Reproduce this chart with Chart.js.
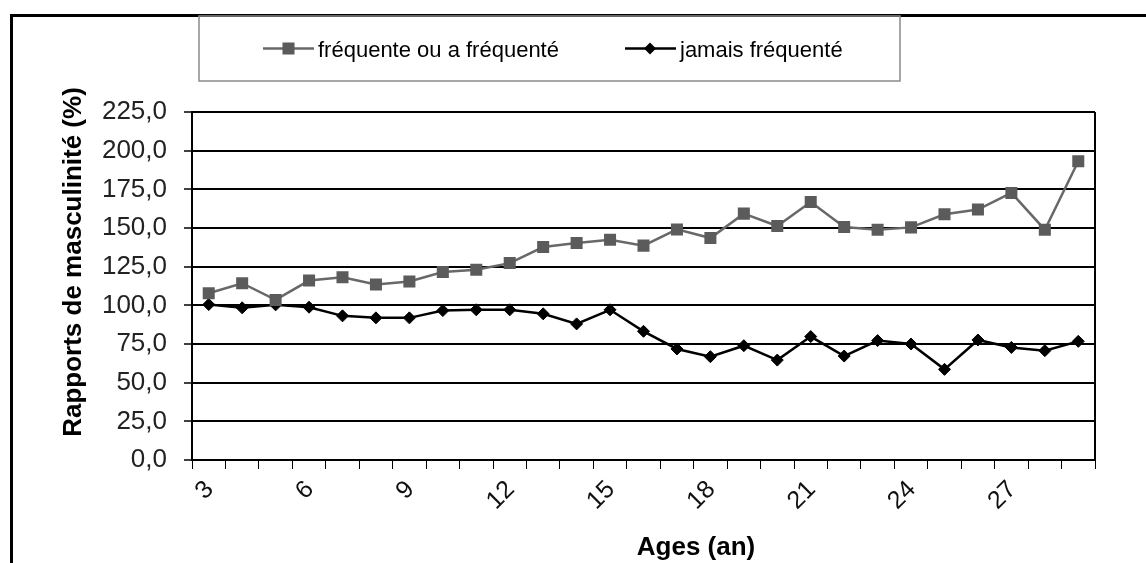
<!DOCTYPE html>
<html>
<head>
<meta charset="utf-8">
<script src="https://cdn.jsdelivr.net/npm/chart.js@4/dist/chart.umd.min.js"></script>
<style>
  html, body { margin: 0; padding: 0; background: #fff; }
  #wrap { width: 1146px; height: 563px; }
</style>
</head>
<body>
<div id="wrap"><canvas id="c" width="1146" height="563"></canvas></div>
<script>
// ---- data ----
const categories = [3,4,5,6,7,8,9,10,11,12,13,14,15,16,17,18,19,20,21,22,23,24,25,26,27,28,29];
const xTickLabels = [3,6,9,12,15,18,21,24,27];
const seriesNames = ['fréquente ou a fréquenté', 'jamais fréquenté'];
const frequente = [107.8,114.3,103.5,116.0,118.2,113.5,115.4,121.5,123.0,127.3,137.7,140.3,142.4,138.6,149.1,143.5,159.3,151.3,166.8,150.6,148.9,150.4,158.9,161.9,172.7,148.9,193.2];
const jamais    = [100.5,98.4,100.3,98.8,93.2,91.9,91.9,96.6,97.1,97.1,94.5,88.0,97.1,83.2,71.8,66.8,73.9,64.6,79.8,67.2,77.2,75.0,58.6,77.6,72.8,70.7,76.7];
const yMin = 0, yMax = 225, yStep = 25;
const yTitle = 'Rapports de masculinité (%)';
const xTitle = 'Ages (an)';

const FONT = "'Liberation Sans', Arial, sans-serif";
const GRAY = '#5b5b5b';
const GRAY_LINE = '#686868';

const framePlugin = {
  id: 'frame',
  beforeDraw(chart) {
    const ctx = chart.ctx;
    ctx.save();
    ctx.fillStyle = '#fff';
    ctx.fillRect(0, 0, chart.width, chart.height);
    // outer frame (top and left)
    ctx.strokeStyle = '#000';
    ctx.lineWidth = 3;
    ctx.beginPath();
    ctx.moveTo(11.5, chart.height);
    ctx.lineTo(11.5, 15.5);
    ctx.lineTo(chart.width, 15.5);
    ctx.stroke();
    // legend box
    ctx.strokeStyle = '#8a8a8a';
    ctx.lineWidth = 1.5;
    ctx.strokeRect(199, 16, 701, 65);
    // legend items
    const ly = 48.5;
    ctx.strokeStyle = GRAY_LINE; ctx.lineWidth = 2.5;
    ctx.beginPath(); ctx.moveTo(263, ly); ctx.lineTo(314, ly); ctx.stroke();
    ctx.fillStyle = GRAY;
    ctx.fillRect(282.5, ly - 6, 12, 12);
    ctx.fillStyle = '#000';
    ctx.font = '22px ' + FONT;
    ctx.textBaseline = 'alphabetic';
    ctx.textAlign = 'left';
    ctx.fillText(seriesNames[0], 318, 56.5);
    ctx.strokeStyle = '#000'; ctx.lineWidth = 2.5;
    ctx.beginPath(); ctx.moveTo(625, ly); ctx.lineTo(676, ly); ctx.stroke();
    ctx.beginPath();
    ctx.moveTo(650, ly - 6); ctx.lineTo(656, ly); ctx.lineTo(650, ly + 6); ctx.lineTo(644, ly);
    ctx.closePath(); ctx.fillStyle = '#000'; ctx.fill();
    ctx.fillText(seriesNames[1], 680, 56.5);
    ctx.restore();
  },
  afterDraw(chart) {
    const ctx = chart.ctx;
    const a = chart.chartArea;
    ctx.save();
    ctx.strokeStyle = '#000';
    ctx.lineWidth = 2;
    ctx.beginPath();
    ctx.moveTo(a.right, a.top);
    ctx.lineTo(a.right, a.bottom + 1);
    ctx.stroke();
    ctx.fillStyle = '#000';
    ctx.font = 'bold 26px ' + FONT;
    ctx.textAlign = 'center';
    ctx.textBaseline = 'alphabetic';
    ctx.fillText(xTitle, 696, 555);
    // y axis title
    ctx.translate(74, 262);
    ctx.rotate(-Math.PI / 2);
    ctx.textBaseline = 'middle';
    ctx.font = 'bold 26px ' + FONT;
    ctx.fillText(yTitle, 0, 0);
    ctx.restore();
  }
};

new Chart(document.getElementById('c'), {
  type: 'line',
  data: {
    labels: categories,
    datasets: [
      {
        label: seriesNames[0],
        data: frequente,
        borderColor: GRAY_LINE,
        backgroundColor: GRAY,
        borderWidth: 2.5,
        pointStyle: 'rect',
        pointRadius: 8.5,
        pointBorderWidth: 0,
        pointBackgroundColor: GRAY,
        pointBorderColor: GRAY,
        tension: 0
      },
      {
        label: seriesNames[1],
        data: jamais,
        borderColor: '#000',
        backgroundColor: '#000',
        borderWidth: 2.5,
        pointStyle: 'rectRot',
        pointRadius: 6,
        pointBorderWidth: 1,
        pointBackgroundColor: '#000',
        pointBorderColor: '#000',
        tension: 0
      }
    ]
  },
  options: {
    responsive: false,
    animation: false,
    devicePixelRatio: 1,
    layout: { padding: { top: 112, right: 51, bottom: 0, left: 0 } },
    plugins: { legend: { display: false }, tooltip: { enabled: false }, title: { display: false } },
    scales: {
      x: {
        type: 'category',
        offset: true,
        grid: { display: true, drawOnChartArea: false, drawTicks: true, tickLength: 9, offset: true, color: '#000', lineWidth: 1 },
        border: { display: true, color: '#000', width: 2 },
        ticks: {
          autoSkip: false, maxRotation: 45, minRotation: 45, padding: 6, labelOffset: 1,
          color: '#111',
          font: { family: FONT, size: 25 },
          callback: function(v, i) { const c = categories[i]; return xTickLabels.includes(c) ? String(c) : ''; }
        },
        afterFit: s => { s.height = 103; }
      },
      y: {
        min: yMin, max: yMax,
        grid: { color: '#000', lineWidth: 2, tickLength: 8, tickColor: '#000', tickWidth: 1.5 },
        border: { display: true, color: '#000', width: 2 },
        ticks: {
          stepSize: yStep, padding: 17, color: '#222',
          font: { family: FONT, size: 26 },
          callback: v => v.toFixed(1).replace('.', ',')
        },
        title: { display: false },
        afterFit: s => { s.width = 192; }
      }
    }
  },
  plugins: [framePlugin]
});
</script>
</body>
</html>
